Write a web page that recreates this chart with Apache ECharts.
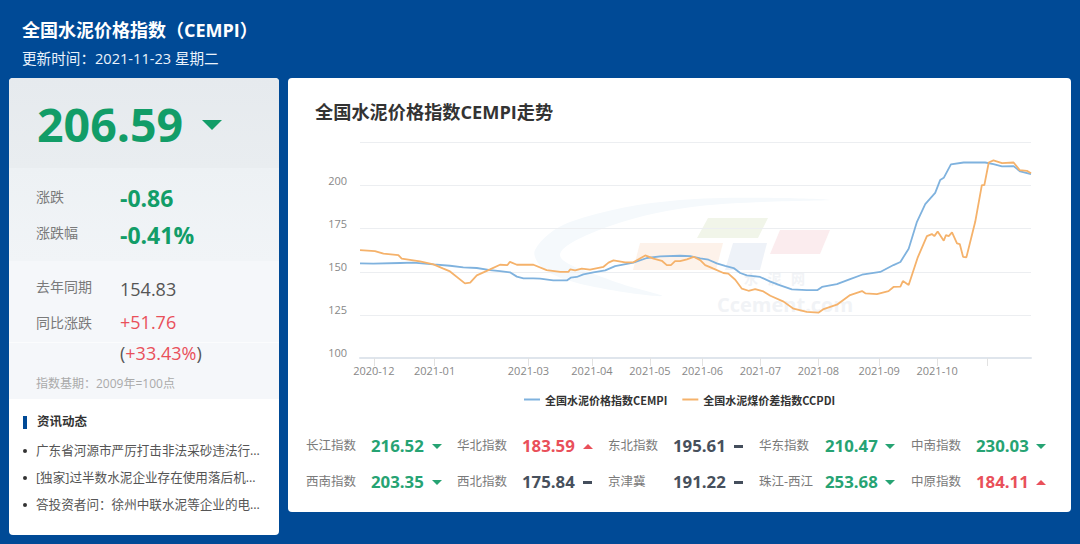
<!DOCTYPE html>
<html><head><meta charset="utf-8">
<script src="https://cdn.jsdelivr.net/npm/echarts@6/dist/echarts.min.js"></script>
<style>
html,body{margin:0;padding:0;width:1080px;height:544px;overflow:hidden;background:#004a96;font-family:"Open Sans","Noto Sans CJK SC",sans-serif}
.a{position:absolute;white-space:nowrap;line-height:1;transform:translateY(-50%)}
.box{position:absolute}
.tri{position:absolute;width:0;height:0;border-left:5px solid transparent;border-right:5px solid transparent}
.dn{border-top:5px solid #26a373}.up{border-bottom:5px solid #e9505a}
.fl{position:absolute;width:9px;height:3px;background:#444e5c}
#chart{position:absolute;left:0;top:0;width:1080px;height:544px;z-index:2}
#ui{position:absolute;left:0;top:0;width:1080px;height:544px;z-index:3}
</style></head><body>
<div class="box" style="left:288px;top:78px;width:783px;height:434px;background:#fff;border-radius:4px"></div>
<div class="box" style="left:9px;top:78px;width:270px;height:457px;background:#fff;border-radius:4px;overflow:hidden">
  <div class="box" style="left:0;top:0;width:270px;height:90px;background:linear-gradient(#e6eaee,#e9edf0)"></div>
  <div class="box" style="left:0;top:90px;width:270px;height:93px;background:linear-gradient(#edf1f4,#f1f4f7)"></div>
  <div class="box" style="left:0;top:183px;width:270px;height:138px;background:#f5f7fa"></div>
  <div class="box" style="left:0;top:264px;width:270px;height:1px;background:#fbfcfd"></div>
</div>
<div id="chart"></div>
<div id="ui"></div>
<script>
// Trading-day position and value of each point
const cempiDays=[0,4.8,14.5,19.3,26.6,32.6,37.4,42.3,47.1,50.7,54.3,56.8,59.2,62.8,65.2,70,74.9,76.3,78.5,80.9,84.5,88.8,92.4,99,103.9,108.7,115.9,119.6,123.2,126.2,129.2,132.2,135.3,137.7,140.1,144.9,148.6,152.2,156.4,161.8,165.7,167.3,172.7,177.5,181.8,188.4,193.2,195.7,198.7,201.7,204.7,208.3,210.1,211.4,214,218.6,226.4,229.4,232.5,236.7,239.1,243];
const cempiValues=[154.9,154.7,155.1,155.3,154.3,153.5,152.6,152.2,151.0,150.4,149.7,147.2,146.2,146.2,146.0,145.0,145.0,146.6,147.0,148.5,149.7,150.8,153.3,155.3,158.0,158.9,159.3,159.1,157.8,157.0,154.9,153.5,152.2,149.3,147.9,147.0,144.3,142.1,139.8,139.4,139.4,141.2,142.9,145.8,148.3,149.9,153.9,155.7,163.4,179.0,189.3,195.8,203.2,204.5,212.3,213.4,213.4,212.5,211.1,211.3,208.2,206.59];
const ccpdiDays=[0,5.4,8.5,13.9,15.1,21.7,26.6,30.2,32.6,38,39.9,42.3,47.1,50.7,53.4,54.3,56.8,62.8,67.6,72.5,75.5,76.1,77.9,80.3,83.3,88.2,90,91.8,96,99,103.3,106.3,109.3,111.1,112.6,114.1,115.9,118.4,120.8,123.2,125,128,131.6,133.4,135.9,138.3,140.7,143.1,146.1,148.6,153.4,157,161.8,166,167.9,172.7,177.5,181.8,183,187.2,191.4,193.2,195.7,196.6,198.7,202,205.3,207.1,208,209.2,211.4,212.2,213.2,214.4,216.2,217.2,218.4,219.6,222.8,225.2,226.1,227.7,229.4,232.5,236.7,238.9,241.5,243];
const ccpdiValues=[162.6,162.0,160.5,159.7,157.6,156.0,154.3,151.8,150.2,143.3,143.7,147.9,151.4,154.1,153.9,155.8,154.1,154.1,151.0,150.0,150.0,151.4,150.8,151.8,151.2,152.9,155.3,156.6,155.5,155.5,159.5,157.6,156.4,153.9,153.9,156.2,156.2,157.2,158.7,156.8,153.9,151.8,149.3,148.9,145.4,140.2,139.0,140.0,138.6,136.1,132.7,128.6,126.7,126.3,128.4,130.9,136.5,138.8,137.5,137.1,138.8,141.2,141.4,144.6,142.3,158.4,170.7,171.9,170.7,173.4,168.0,171.3,170.7,172.9,166.5,166.1,158.7,158.4,179.0,200.3,200.3,213.4,214.6,213.0,213.4,209.0,208.6,207.1];
const tickDays=[5,27,61,84,105,124,145,166,188,209,227];
const tickLabels=['2020-12','2021-01','2021-03','2021-04','2021-05','2021-06','2021-07','2021-08','2021-09','2021-10',''];
const seriesNames=['全国水泥价格指数CEMPI','全国水泥煤价差指数CCPDI'];
const regionNames=['长江指数','华北指数','东北指数','华东指数','中南指数','西南指数','西北指数','京津冀','珠江-西江','中原指数'];
const regionValues=['216.52','183.59','195.61','210.47','230.03','203.35','175.84','191.22','253.68','184.11'];
const regionTrends=['dn','up','fl','dn','dn','dn','fl','fl','dn','up'];
const newsItems=['广东省河源市严厉打击非法采砂违法行…','[独家]过半数水泥企业存在使用落后机…','答投资者问：徐州中联水泥等企业的电…'];

const chart=echarts.init(document.getElementById('chart'),null,{renderer:'svg',width:1080,height:544});
const pts=(xs,ys)=>xs.map((x,i)=>[x,ys[i]]);
chart.setOption({
  animation:false,backgroundColor:'transparent',
  graphic:[
    {type:'polygon',z:0,silent:true,shape:{smooth:0.35,points:[[535,250],[570,222],[680,200],[830,200],[700,206],[610,226],[560,255],[610,280],[662,296],[590,286],[545,270]]},style:{fill:'#f5f9fc'}},
    {type:'polygon',z:0,silent:true,shape:{points:[[708,218],[768,218],[758,238],[697,238]]},style:{fill:'#f1f5e9'}},
    {type:'polygon',z:0,silent:true,shape:{points:[[780,230],[830,230],[820,254],[770,254]]},style:{fill:'#fbecee'}},
    {type:'polygon',z:0,silent:true,shape:{points:[[733,243],[767,243],[760,270],[725,270]]},style:{fill:'#eef2f8'}},
    {type:'polygon',z:0,silent:true,shape:{points:[[640,243],[723,243],[716,270],[633,270]]},style:{fill:'#fdf2ea'}},
    {type:'text',z:0,silent:true,left:744,top:271,style:{text:'水   泥   网',fill:'#f1f3f6',font:'bold 14px "Noto Sans CJK SC"'}},
    {type:'text',z:0,silent:true,left:717,top:294,style:{text:'Ccement.com',fill:'#f1f3f6',font:'bold 20px "Open Sans"'}}
  ],
  legend:{left:519,top:389,itemWidth:16,itemHeight:2,itemGap:15,icon:'rect',
    textStyle:{fontSize:11,fontWeight:'bold',color:'#333',fontFamily:'"Noto Sans CJK SC"'},data:seriesNames},
  grid:{left:360,right:49,top:142.5,bottom:186},
  xAxis:{type:'value',min:0,max:243,splitLine:{show:false},
    axisLine:{show:true,lineStyle:{color:'#dfe5ec',width:2}},
    axisTick:{show:true,length:8,lineStyle:{color:'#e2e2e2'},customValues:tickDays},
    axisLabel:{color:'#888',fontSize:11,margin:7,fontFamily:'"Open Sans"',customValues:tickDays.slice(0,10),
      formatter:v=>tickLabels[tickDays.indexOf(v)]||''}},
  yAxis:{type:'value',min:100,max:225,interval:25,
    axisLine:{show:false},axisTick:{show:false},
    splitLine:{lineStyle:{color:'#eceef1'}},
    axisLabel:{color:'#888',fontSize:11,margin:13,verticalAlign:'bottom',showMaxLabel:false,fontFamily:'"Open Sans"'}},
  series:[
    {name:seriesNames[0],type:'line',z:3,symbol:'none',data:pts(cempiDays,cempiValues),lineStyle:{color:'#7fb2de',width:1.8},itemStyle:{color:'#7fb2de'}},
    {name:seriesNames[1],type:'line',z:4,symbol:'none',data:pts(ccpdiDays,ccpdiValues),lineStyle:{color:'#f5b26b',width:1.8},itemStyle:{color:'#f5b26b'}}
  ]
});

const ui=document.getElementById('ui');
function t(x,y,s,size,color,bold){const d=document.createElement('div');d.className='a';d.textContent=s;
  d.style.cssText=`left:${x}px;top:${y}px;font-size:${size}px;color:${color};font-weight:${bold?700:400}`;ui.appendChild(d);return d}
function mark(cls,cx,cy){const d=document.createElement('div');d.className=cls==='fl'?'fl':'tri '+cls;
  if(cls==='fl'){d.style.left=(cx-4.5)+'px';d.style.top=(cy-1.5)+'px'}else{d.style.left=(cx-5)+'px';d.style.top=(cy-2.5)+'px'}
  ui.appendChild(d)}
const G='#129d68',GL='#7a7a7a',R='#e9505a';
t(22,30,'全国水泥价格指数（CEMPI）',18,'#fff',true);
t(22,58,'更新时间：2021-11-23 星期二',14.6,'#eaf2fb');
t(37,124,'206.59',46.5,G,true);
const big=document.createElement('div');big.style.cssText='position:absolute;left:202px;top:120px;width:0;height:0;border-left:10px solid transparent;border-right:10px solid transparent;border-top:10px solid '+G;ui.appendChild(big);
t(36,197,'涨跌',14,GL);t(120,198,'-0.86',23,G,true);
t(36,233,'涨跌幅',14,GL);t(120,235,'-0.41%',23,G,true);
t(36,287,'去年同期',14,GL);t(120,289,'154.83',18,'#555');
t(36,323,'同比涨跌',14,GL);t(120,322,'+51.76',18,R);
const pc=t(120,353,'',18,'#555');pc.innerHTML='(<span style="color:'+R+'">+33.43%</span>)';
t(36,384,'指数基期：2009年=100点',12,'#aaa');
const bar=document.createElement('div');bar.style.cssText='position:absolute;left:23px;top:416px;width:4px;height:13px;background:#004a96';ui.appendChild(bar);
t(37,422,'资讯动态',12.5,'#333',true);
newsItems.forEach((s,i)=>{const y=451+i*27;t(36,y,s,12.6,'#555');
  const b=document.createElement('div');b.style.cssText=`position:absolute;left:23px;top:${y-2}px;width:4px;height:4px;border-radius:50%;background:#333`;ui.appendChild(b)});
t(315,112,'全国水泥价格指数CEMPI走势',18.2,'#333',true);
const labelX=[306,457,608,759,911],valX=[371,522,673,825,976],markX=[436.5,587.5,738.5,890,1041];
regionNames.forEach((n,i)=>{const c=i%5,y=i<5?446:482,tr=regionTrends[i];
  t(labelX[c],y,n,12.5,GL);
  t(valX[c],y,regionValues[i],16.8,tr==='dn'?'#26a373':tr==='up'?R:'#47505c',true);
  mark(tr,markX[c],y)});
</script>
</body></html>
